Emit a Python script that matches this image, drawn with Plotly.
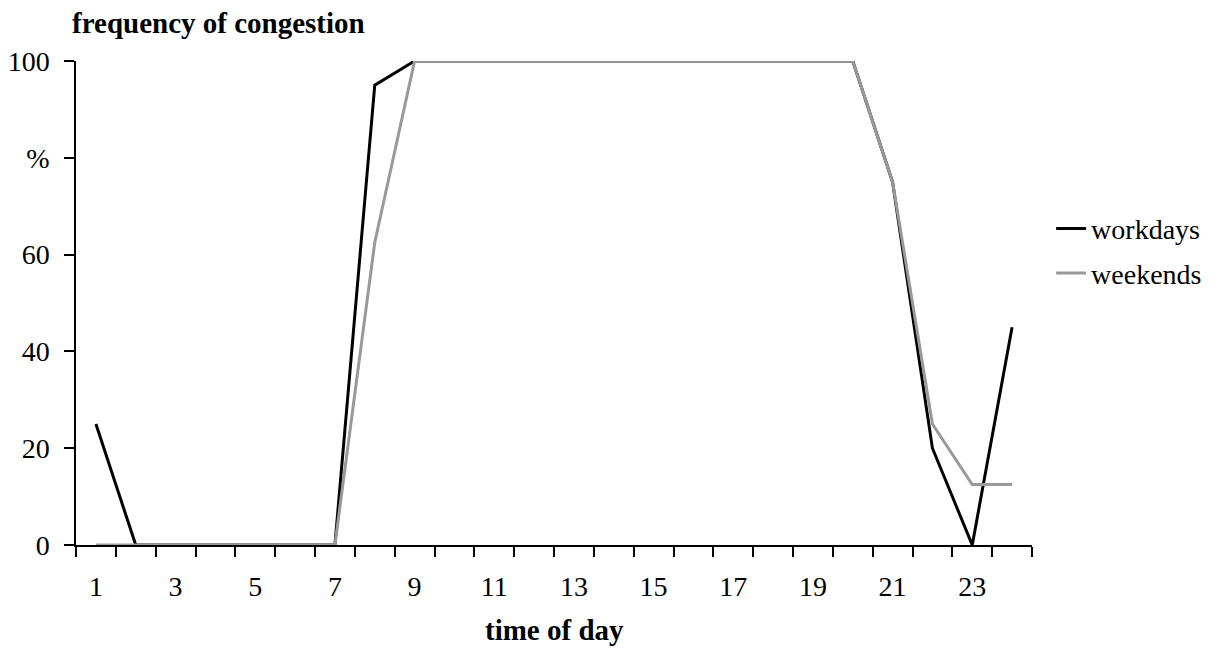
import plotly.graph_objects as go

hours = list(range(1, 25))
workdays = [25, 0, 0, 0, 0, 0, 0, 95, 100, 100, 100, 100, 100, 100, 100, 100, 100, 100, 100, 100, 75, 20, 0, 45]
weekends = [0, 0, 0, 0, 0, 0, 0, 62.5, 100, 100, 100, 100, 100, 100, 100, 100, 100, 100, 100, 100, 75, 25, 12.5, 12.5]
y_tickvals = [0, 20, 40, 60, 80, 100]
y_ticktext = ["0", "20", "40", "60", "%", "100"]
x_labels = [1, 3, 5, 7, 9, 11, 13, 15, 17, 19, 21, 23]
x_boundaries = [h - 0.5 for h in hours] + [24.5]

FONT = "Liberation Serif, Times New Roman, serif"

fig = go.Figure()
fig.add_trace(go.Scatter(x=hours, y=workdays, mode="lines", name="workdays",
                         line=dict(color="#000000", width=3), legendgroup="a"))
fig.add_trace(go.Scatter(x=hours, y=weekends, mode="lines", name="weekends",
                         line=dict(color="#999999", width=3), legendgroup="b"))

fig.update_layout(
    width=1220, height=649,
    margin=dict(l=68, r=196, t=53, b=112, autoexpand=False),
    paper_bgcolor="white", plot_bgcolor="white",
    font=dict(family=FONT, size=28, color="black"),
    showlegend=True,
    legend=dict(x=1.02, y=0.705, xanchor="left", yanchor="top",
                font=dict(size=28), tracegroupgap=5, itemwidth=30,
                bgcolor="rgba(0,0,0,0)"),
    xaxis=dict(
        range=[0.5, 24.5], showgrid=False, zeroline=False, automargin=False,
        showline=True, linecolor="black", linewidth=1.5,
        tickmode="array", tickvals=x_labels, ticktext=[str(v) for v in x_labels],
        ticks="outside", ticklen=10, tickcolor="rgba(0,0,0,0)",
        ticklabelstandoff=6,
        minor=dict(tickmode="array", tickvals=x_boundaries, ticks="outside",
                   ticklen=10, tickcolor="black", tickwidth=1.5, showgrid=False),
        tickfont=dict(size=28),
    ),
    yaxis=dict(
        range=[0, 100], showgrid=False, zeroline=False, automargin=False,
        showline=True, linecolor="black", linewidth=1.5,
        tickmode="array", tickvals=y_tickvals, ticktext=y_ticktext,
        ticks="outside", ticklen=10, tickcolor="black", tickwidth=1.5,
        ticklabelstandoff=9,
        tickfont=dict(size=28),
    ),
    annotations=[
        dict(text="<b>frequency of congestion</b>", x=0, xref="paper",
             xanchor="left", xshift=-6, y=1, yref="paper", yanchor="middle",
             yshift=38, showarrow=False, font=dict(size=29)),
        dict(text="<b>time of day</b>", x=0.5, xref="paper", xanchor="center",
             y=0, yref="paper", yanchor="middle", yshift=-85, showarrow=False,
             font=dict(size=29)),
    ],
)

fig.write_html("out.html")
